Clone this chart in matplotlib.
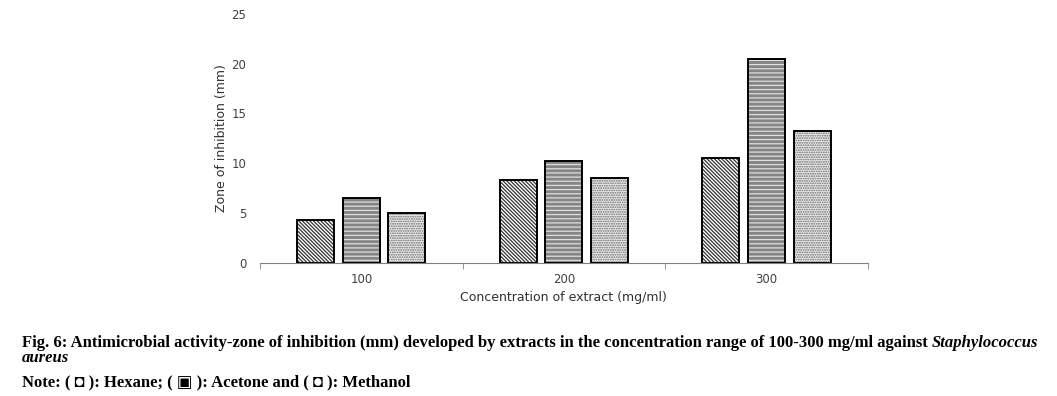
import matplotlib
matplotlib.use("Agg")
import matplotlib.pyplot as plt
import numpy as np

# data
concentrations = ["100", "200", "300"]
hexane = [4.3, 8.3, 10.5]
acetone = [6.5, 10.2, 20.5]
methanol = [5.0, 8.5, 13.2]

plt.rcParams["hatch.linewidth"] = 0.9

fig = plt.figure(figsize=(10.57, 3.96), dpi=100)
ax = fig.add_axes([0.246, 0.336, 0.575, 0.629])

x = np.arange(len(concentrations))
w = 0.183
step = 0.225

series = [
    (hexane, "white", "#333333", "\\" * 9),
    (acetone, "#858585", "#dedede", "-" * 4),
    (methanol, "#f0f0f0", "#666666", "." * 7),
]
for i, (vals, fc, hc, hatch) in enumerate(series):
    pos = x + (i - 1) * step
    ax.bar(pos, vals, width=w, color=fc, edgecolor=hc, hatch=hatch, linewidth=0)
    ax.bar(pos, vals, width=w, fill=False, edgecolor="black", linewidth=1.4)

ax.set_xlim(-0.5, 2.5)
ax.set_ylim(0, 25)
ax.set_yticks([0, 5, 10, 15, 20, 25])
ax.set_xticks(x)
ax.set_xticklabels(concentrations)
ax.set_xticks([-0.5, 0.5, 1.5, 2.5], minor=True)
ax.tick_params(axis="x", which="major", length=0, pad=7, labelsize=8.5, colors="#404040")
ax.tick_params(axis="x", which="minor", length=4, color="#808080", direction="out")
ax.tick_params(axis="y", length=0, pad=10, labelsize=8.5, colors="#404040")
for s in ["top", "right", "left"]:
    ax.spines[s].set_visible(False)
ax.spines["bottom"].set_color("#808080")

ax.set_xlabel("Concentration of extract (mg/ml)", fontsize=9, color="#303030", labelpad=4)
ax.set_ylabel("Zone of inhibition (mm)", fontsize=9, color="#303030", labelpad=2)

# caption
cap = dict(family=["Liberation Serif", "DejaVu Sans"], fontsize=12, weight="bold")
t1 = fig.text(22 / 1057, 1 - 347 / 396,
              "Fig. 6: Antimicrobial activity-zone of inhibition (mm) developed by extracts "
              "in the concentration range of 100-300 mg/ml against ", va="baseline", **cap)
ax.annotate("Staphylococcus", xy=(1, 0), xycoords=t1, va="bottom", ha="left",
            style="italic", annotation_clip=False, **cap)
fig.text(22 / 1057, 1 - 362 / 396, "aureus", va="baseline", style="italic", **cap)
fig.text(22 / 1057, 1 - 386 / 396,
         "Note: ( \u25d8 ): Hexane; ( \u25a3 ): Acetone and ( \u25d8 ): Methanol",
         va="baseline", **cap)

fig.savefig("out.png", dpi=100)
